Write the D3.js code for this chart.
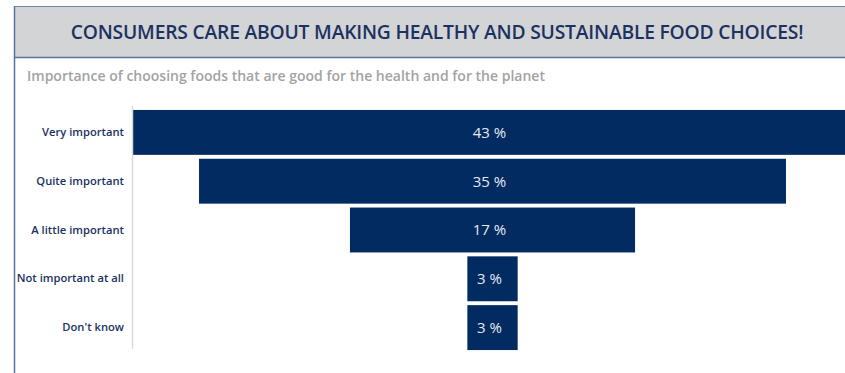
<!DOCTYPE html>
<html>
<head>
<meta charset="utf-8">
<script src="https://cdn.jsdelivr.net/npm/d3@7"></script>
<style>
  html, body { margin: 0; padding: 0; background: #ffffff; }
  svg { display: block; }
</style>
</head>
<body>
<svg id="chart" width="845" height="373"></svg>
<script>
// Survey answers and their shares (%)
const categories = ["Very important", "Quite important", "A little important", "Not important at all", "Don't know"];
const shares = [43, 35, 17, 3, 3];
const valueLabels = ["43 %", "35 %", "17 %", "3 %", "3 %"];

const titleText = "CONSUMERS CARE ABOUT MAKING HEALTHY AND SUSTAINABLE FOOD CHOICES!";
const subtitleText = "Importance of choosing foods that are good for the health and for the planet";

const W = 845, H = 373;
const navy = "#022b62";
const svg = d3.select("#chart");

// Shrink or grow a text node's font size so it spans the given width
function fitWidth(sel, target) {
  const node = sel.node();
  const fs = parseFloat(sel.attr("font-size"));
  const len = node.getComputedTextLength();
  if (len > 0) sel.attr("font-size", (fs * target / len).toFixed(2));
}

// Header band
svg.append("rect")
  .attr("x", 14.5).attr("y", 6.5).attr("width", W).attr("height", 51)
  .attr("fill", "#d3d4d6").attr("stroke", "none");
svg.append("line").attr("x1", 14).attr("x2", W).attr("y1", 6.5).attr("y2", 6.5)
  .attr("stroke", "#6d87ad").attr("stroke-width", 1);
svg.append("line").attr("x1", 14).attr("x2", W).attr("y1", 57.5).attr("y2", 57.5)
  .attr("stroke", "#5473a3").attr("stroke-width", 1.5);
// Left frame rule
svg.append("line").attr("x1", 14.5).attr("x2", 14.5).attr("y1", 6).attr("y2", H)
  .attr("stroke", "#5473a3").attr("stroke-width", 1.5);

const title = svg.append("text")
  .attr("x", 437).attr("y", 39)
  .attr("text-anchor", "middle")
  .attr("font-family", "'Open Sans', 'Noto Sans', sans-serif")
  .attr("font-weight", 600)
  .attr("font-size", 17)
  .attr("fill", "#1b3261")
  .attr("letter-spacing", "-0.2")
  .text(titleText);
fitWidth(title, 731);

const subtitle = svg.append("text")
  .attr("x", 27).attr("y", 81)
  .attr("font-family", "'Open Sans', 'Noto Sans', sans-serif")
  .attr("font-weight", 600)
  .attr("font-size", 13)
  .attr("fill", "#a3a3a3")
  .text(subtitleText);
fitWidth(subtitle, 518);

// Funnel layout: bars centred on a common axis
const plotTop = 108, plotBottom = 352;
const centerX = 492.5;
const unit = 16.77; // px per percentage point

const y = d3.scaleBand()
  .domain(categories)
  .range([plotTop, plotBottom])
  .paddingInner(0.08)
  .paddingOuter(0.04);

const w = d3.scaleLinear().domain([0, 1]).range([0, unit]);

const data = categories.map((c, i) => ({ cat: c, v: shares[i], label: valueLabels[i] }));

svg.append("clipPath").attr("id", "plotClip")
  .append("rect").attr("x", 132).attr("y", 0).attr("width", W - 132).attr("height", H);

const g = svg.append("g").attr("clip-path", "url(#plotClip)");

g.selectAll("rect.bar")
  .data(data)
  .join("rect")
  .attr("class", "bar")
  .attr("x", d => centerX - w(d.v) / 2)
  .attr("width", d => w(d.v))
  .attr("y", d => y(d.cat))
  .attr("height", y.bandwidth())
  .attr("fill", navy);

g.selectAll("text.val")
  .data(data)
  .join("text")
  .attr("class", "val")
  .attr("x", centerX - 3)
  .attr("y", d => y(d.cat) + y.bandwidth() / 2)
  .attr("dy", "0.36em")
  .attr("text-anchor", "middle")
  .attr("font-family", "'Open Sans', 'Noto Sans', sans-serif")
  .attr("font-size", 15)
  .attr("fill", "#e6e9f0")
  .text(d => d.label);

// Category axis
const axis = d3.axisLeft(y).tickSize(0).tickPadding(8);
const ax = svg.append("g").attr("transform", "translate(132,0)").call(axis);
ax.select(".domain")
  .attr("d", `M0.5,${plotTop - 2}V${plotBottom - 3}`)
  .attr("stroke", "#d9d9d9").attr("stroke-width", 1.5);
ax.selectAll(".tick text")
  .attr("font-family", "'Open Sans', 'Noto Sans', sans-serif")
  .attr("font-weight", 600)
  .attr("font-size", 11.2)
  .attr("fill", "#1b3261");
</script>
</body>
</html>
